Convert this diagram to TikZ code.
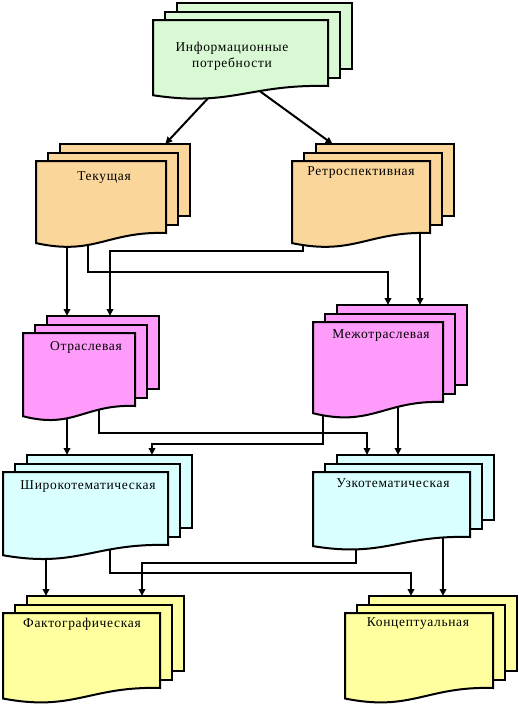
\documentclass[tikz,border=0pt]{standalone}
\usepackage{fontspec}
\setmainfont{Liberation Serif}
\newfontfamily\docfamily[LetterSpace=5]{Liberation Serif}
\usetikzlibrary{arrows.meta, calc, backgrounds}

\definecolor{docgreen}{RGB}{217,248,212}
\definecolor{docorange}{RGB}{250,214,155}
\definecolor{docpink}{RGB}{255,155,250}
\definecolor{doccyan}{RGB}{218,255,255}
\definecolor{docyellow}{RGB}{255,255,160}

\newcommand{\docfont}{\docfamily\fontsize{13.5}{16}\selectfont}
\newcommand{\sheetdx}{12}
\newcommand{\sheetdy}{8.5}

% stack of three sheets: name, x, y, width, height, colour, text, text position
\newcommand{\docstack}[8]{%
  \begin{scope}[shift={(#2,#3)}]
    \node[sheet, fill=#6, minimum width=#4pt, minimum height=#5pt] (#1-back) at (2*\sheetdx,-2*\sheetdy) {};
    \node[sheet, fill=#6, minimum width=#4pt, minimum height=#5pt] (#1-mid) at (\sheetdx,-\sheetdy) {};
    \filldraw[docline, fill=#6] (0,0) -- (#4,0) -- (#4,#5)
      .. controls ({0.55*#4},{#5-2}) and ({0.45*#4},{1.32*#5}) .. (0,{1.14*#5}) -- cycle;
    \coordinate (#1-sw) at (0,#5);
    \coordinate (#1-se) at (#4,#5);
    \node[doclabel] (#1) at (#8) {#7};
  \end{scope}}

\begin{document}
\begin{tikzpicture}[
    x=1pt, y=-1pt,
    docline/.style={line width=2pt, line join=miter},
    sheet/.style={draw, docline, rectangle, inner sep=0pt, outer sep=0pt, anchor=north west},
    doclabel/.style={font=\docfont, align=center, inner sep=0pt},
    arrow/.style={-{Triangle[length=7pt, width=6.5pt]}, line width=2pt}
  ]
  \useasboundingbox (0,0) rectangle (519,705);

  \docstack{info}{153}{20}{175}{66}{docgreen}{Информационные\\потребности}{79,36}
  \docstack{tek}{36}{161}{130}{72}{docorange}{Текущая}{68,17}
  \docstack{retro}{292}{161}{138}{72}{docorange}{Ретроспективная}{69,12}
  \docstack{otr}{23}{333}{112}{73}{docpink}{Отраслевая}{63,14}
  \docstack{mezh}{313}{322}{130}{80}{docpink}{Межотраслевая}{68,14}
  \docstack{shir}{3}{472}{165}{73}{doccyan}{Широкотематическая}{85,15}
  \docstack{uzk}{313}{472}{157}{65}{doccyan}{Узкотематическая}{80,11}
  \docstack{fakt}{3}{613}{157}{75}{docyellow}{Фактографическая}{79,11}
  \docstack{konc}{345}{613}{148}{75}{docyellow}{Концептуальная}{73,11}

  \begin{scope}[on background layer]
    % information needs -> current / retrospective
    \coordinate (info-o1) at ($(info-sw)!.38!(info-se)$);
    \coordinate (info-o2) at ($(info-sw)!.57!(info-se)$);
    \coordinate (tek-i1) at ($(tek-back.north west)!.81!(tek-back.north east)$);
    \coordinate (retro-i1) at ($(retro-back.north west)!.12!(retro-back.north east)$);
    \draw[arrow] (info-o1) -- (tek-i1);
    \draw[arrow] (info-o2) -- (retro-i1);

    % row 2 -> row 3
    \coordinate (tek-o1) at ($(tek-sw)!.2385!(tek-se)$);
    \coordinate (tek-o2) at ($(tek-sw)!.4!(tek-se)$);
    \coordinate (retro-o1) at ($(retro-sw)!.0797!(retro-se)$);
    \coordinate (retro-o2) at ($(retro-sw)!.9275!(retro-se)$);
    \coordinate (otr-i2) at ($(otr-back.north west)!.5625!(otr-back.north east)$);
    \coordinate (mezh-i1) at ($(mezh-back.north west)!.3923!(mezh-back.north east)$);
    \draw[arrow] (tek-o1) -- (tek-o1 |- otr-back.north);
    \draw[arrow] (tek-o2) -- ++(0,39) -| (mezh-i1);
    \draw[arrow] (retro-o1) -- ++(0,18) -| (otr-i2);
    \draw[arrow] (retro-o2) -- (retro-o2 |- mezh-back.north);

    % row 3 -> row 4
    \coordinate (otr-o1) at ($(otr-sw)!.3929!(otr-se)$);
    \coordinate (otr-o2) at ($(otr-sw)!.6786!(otr-se)$);
    \coordinate (mezh-o1) at ($(mezh-sw)!.0769!(mezh-se)$);
    \coordinate (mezh-o2) at ($(mezh-sw)!.6538!(mezh-se)$);
    \coordinate (shir-i2) at ($(shir-back.north west)!.7576!(shir-back.north east)$);
    \coordinate (uzk-i1) at ($(uzk-back.north west)!.1911!(uzk-back.north east)$);
    \draw[arrow] (otr-o1) -- (otr-o1 |- shir-back.north);
    \draw[arrow] (otr-o2) -- ++(0,27) -| (uzk-i1);
    \draw[arrow] (mezh-o1) -- ++(0,42) -| (shir-i2);
    \draw[arrow] (mezh-o2) -- (mezh-o2 |- uzk-back.north);

    % row 4 -> row 5
    \coordinate (shir-o1) at ($(shir-sw)!.2606!(shir-se)$);
    \coordinate (shir-o2) at ($(shir-sw)!.6485!(shir-se)$);
    \coordinate (uzk-o1) at ($(uzk-sw)!.2739!(uzk-se)$);
    \coordinate (uzk-o2) at ($(uzk-sw)!.828!(uzk-se)$);
    \coordinate (fakt-i2) at ($(fakt-back.north west)!.7325!(fakt-back.north east)$);
    \coordinate (konc-i1) at ($(konc-back.north west)!.2838!(konc-back.north east)$);
    \draw[arrow] (shir-o1) -- (shir-o1 |- fakt-back.north);
    \draw[arrow] (shir-o2) -- ++(0,28) -| (konc-i1);
    \draw[arrow] (uzk-o1) -- ++(0,26) -| (fakt-i2);
    \draw[arrow] (uzk-o2) -- (uzk-o2 |- konc-back.north);
  \end{scope}
\end{tikzpicture}
\end{document}
